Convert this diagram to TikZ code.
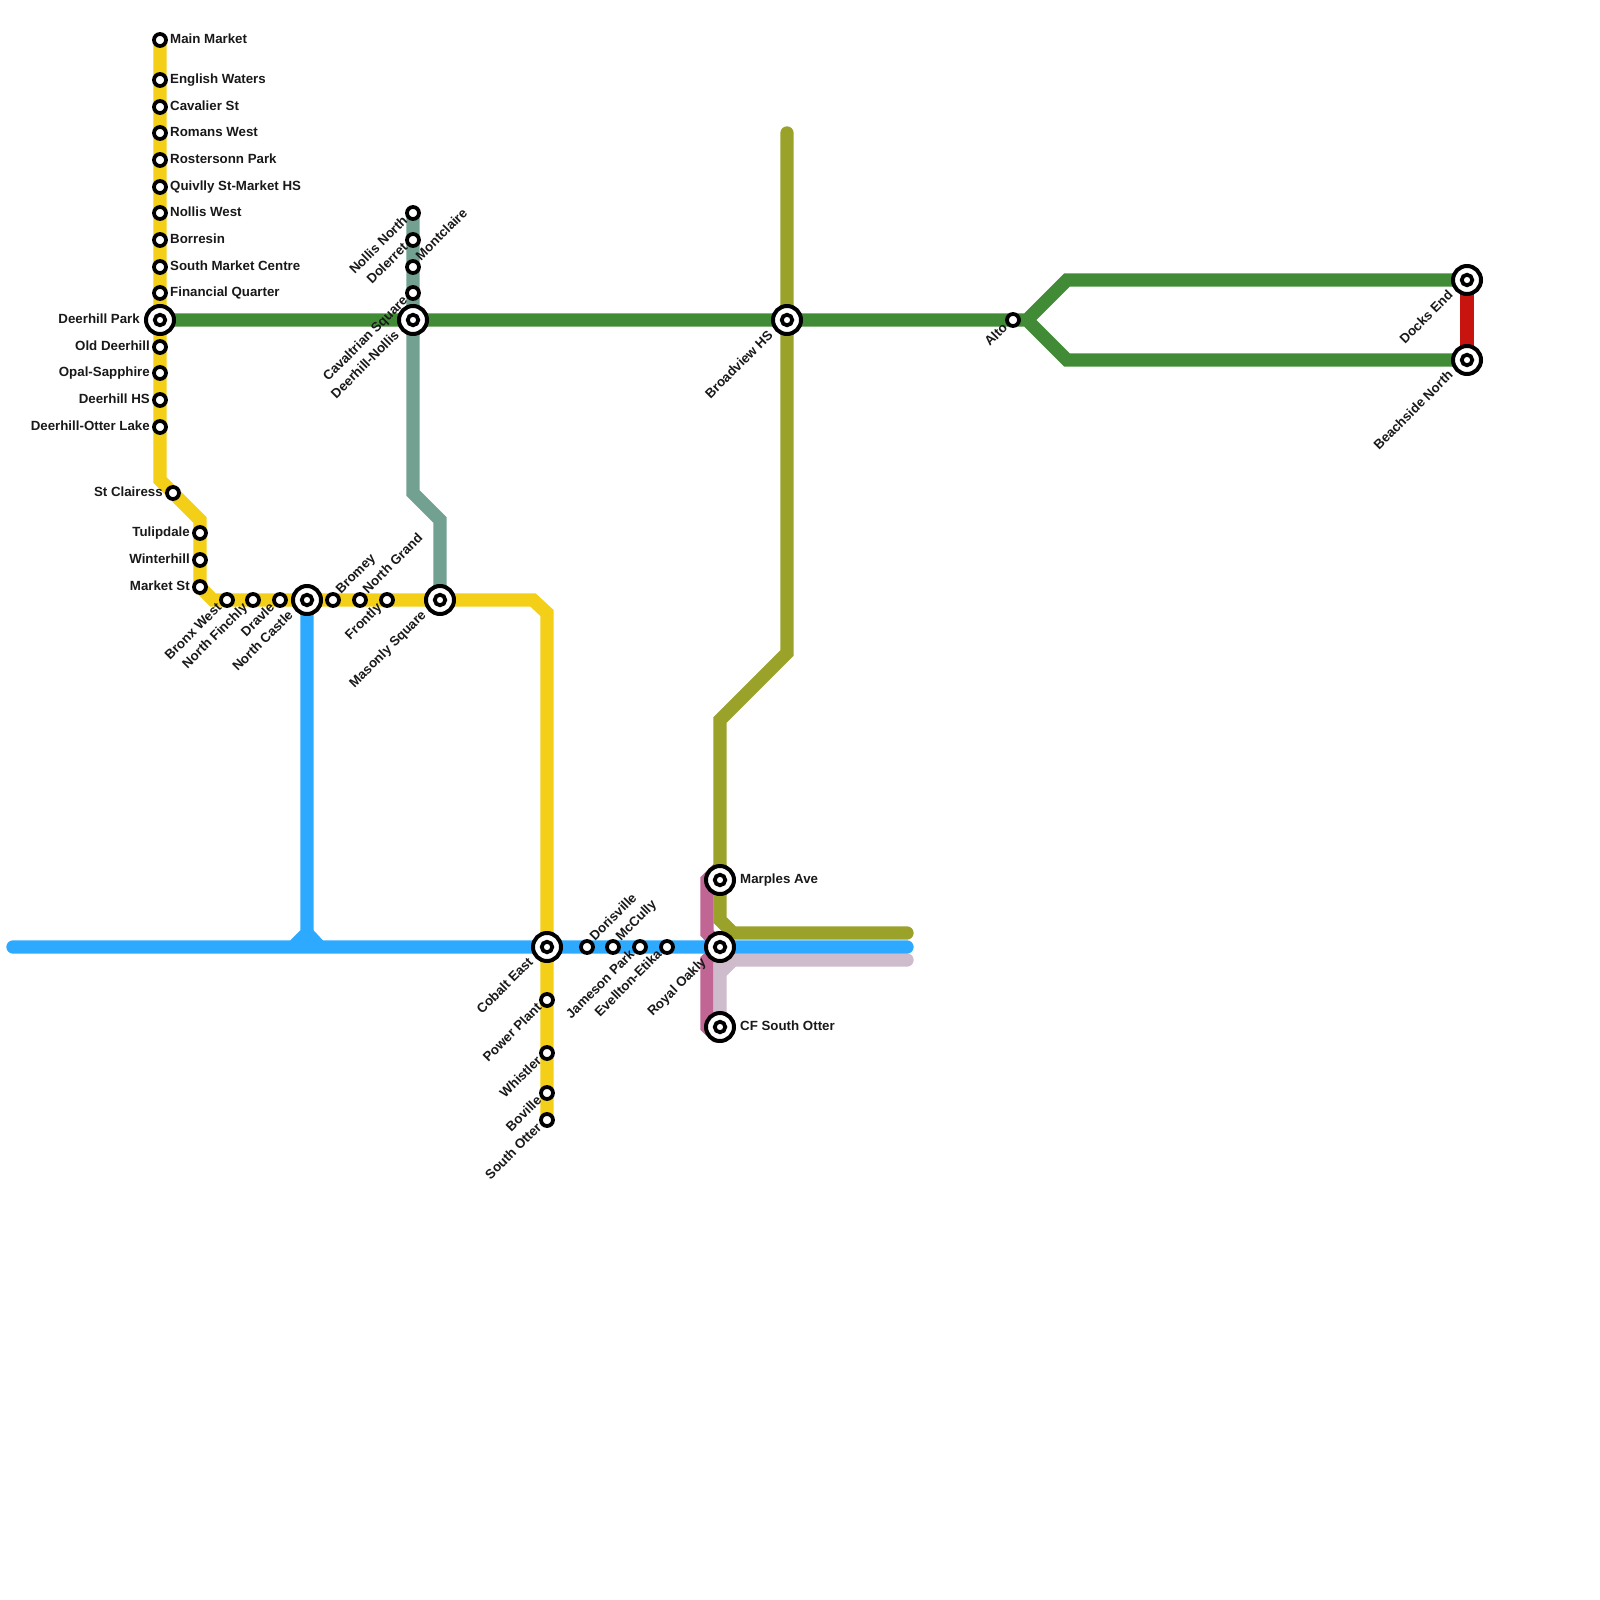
\documentclass[tikz,border=0pt]{standalone}
\usepackage{fontspec}
\setmainfont{Liberation Sans}
\usetikzlibrary{backgrounds}
\tikzset{
 x=1pt,y=-1pt,
 stn/.style={circle,draw=black,fill=white,line width=3.8pt,minimum size=12pt,inner sep=0pt},
 bigstn/.style={circle,draw=black,fill=white,line width=4pt,minimum size=28pt,inner sep=0pt},
 core/.style={circle,draw=black,fill=white,line width=3.8pt,minimum size=10.5pt,inner sep=0pt},
 metro/.style={line width=13.33pt,line cap=round,line join=miter},
 lbl/.style={inner sep=0pt,text height=9.5pt,text depth=2.8pt,font=\bfseries\fontsize{13.3}{15}\selectfont,text=black!90},
 R/.style={lbl,anchor=west,xshift=10pt,yshift=-0.5pt},
 L/.style={lbl,anchor=east,xshift=-10pt,yshift=-0.5pt},
 BL/.style={lbl,anchor=east,xshift=-20pt,yshift=-0.5pt},
 BR/.style={lbl,anchor=west,xshift=20pt,yshift=-0.5pt},
 DL/.style={lbl,anchor=east,xshift=-7pt,yshift=-6pt,rotate=45},
 BDL/.style={lbl,anchor=east,xshift=-15.5pt,yshift=-13.5pt,rotate=45},
 UR/.style={lbl,anchor=west,xshift=5.5pt,yshift=8pt,rotate=45},
}
\begin{document}
\begin{tikzpicture}
\useasboundingbox (0,0) rectangle (1600,1600);
% yellow stations
\node[stn] (mm) at (160,40) {};
\node[stn] (ew) at (160,80) {};
\node[stn] (cs) at (160,107) {};
\node[stn] (rw) at (160,133) {};
\node[stn] (rp) at (160,160) {};
\node[stn] (qs) at (160,187) {};
\node[stn] (nw) at (160,213) {};
\node[stn] (bo) at (160,240) {};
\node[stn] (sm) at (160,267) {};
\node[stn] (fq) at (160,293) {};
\node[bigstn] (dp) at (160,320) {}; \node[core] (dpi) at (dp) {};
\node[stn] (od) at (160,347) {};
\node[stn] (os) at (160,373) {};
\node[stn] (dh) at (160,400) {};
\node[stn] (dl) at (160,427) {};
\node[stn] (sc) at (173,493) {};
\node[stn] (tu) at (200,533) {};
\node[stn] (wi) at (200,560) {};
\node[stn] (ms) at (200,587) {};
\node[stn] (bw) at (227,600) {};
\node[stn] (nf) at (253,600) {};
\node[stn] (dr) at (280,600) {};
\node[bigstn] (nc) at (307,600) {}; \node[core] (nci) at (nc) {};
\node[stn] (br) at (333,600) {};
\node[stn] (ng) at (360,600) {};
\node[stn] (fr) at (387,600) {};
\node[bigstn] (mq) at (440,600) {}; \node[core] (mqi) at (mq) {};
\node[bigstn] (ce) at (547,947) {}; \node[core] (cei) at (ce) {};
\node[stn] (pp) at (547,1000) {};
\node[stn] (wh) at (547,1053) {};
\node[stn] (bv) at (547,1093) {};
\node[stn] (so) at (547,1120) {};
% blue stations
\node[stn] (ds) at (587,947) {};
\node[stn] (mc) at (613,947) {};
\node[stn] (jp) at (640,947) {};
\node[stn] (ee) at (667,947) {};
\node[bigstn] (ro) at (720,947) {}; \node[core] (roi) at (ro) {};
\node[bigstn] (ma) at (720,880) {}; \node[core] (mai) at (ma) {};
\node[bigstn] (cf) at (720,1027) {}; \node[core] (cfi) at (cf) {};
% teal stations
\node[stn] (nn) at (413,213) {};
\node[stn] (de) at (413,240) {};
\node[stn] (mo) at (413,267) {};
\node[stn] (ca) at (413,293) {};
\node[bigstn] (dn) at (413,320) {}; \node[core] (dni) at (dn) {};
% green stations
\node[bigstn] (bh) at (787,320) {}; \node[core] (bhi) at (bh) {};
\node[stn] (al) at (1013,320) {};
\node[bigstn] (de2) at (1467,280) {}; \node[core] (de2i) at (de2) {};
\node[bigstn] (bn) at (1467,360) {}; \node[core] (bni) at (bn) {};
% way points
\coordinate (y1) at (160,480); \coordinate (y2) at (200,520); \coordinate (y3) at (213,600);
\coordinate (y4) at (533,600); \coordinate (y5) at (547,613);
\coordinate (b0) at (13,947); \coordinate (b1) at (907,947);
\coordinate (b2) at (307,933); \coordinate (b3) at (293,947); \coordinate (b4) at (320,947);
\coordinate (t1) at (413,493); \coordinate (t2) at (440,520);
\coordinate (g1) at (1027,320); \coordinate (g2) at (1067,280); \coordinate (g3) at (1067,360);
\coordinate (o0) at (787,133); \coordinate (o1) at (787,653); \coordinate (o2) at (720,720);
\coordinate (o3) at (720,920); \coordinate (o4) at (733,933); \coordinate (o5) at (907,933);
\coordinate (v1) at (720,973); \coordinate (v2) at (733,960); \coordinate (v3) at (907,960);
\coordinate (p0) at (720,867); \coordinate (p1) at (707,880); \coordinate (p2) at (707,933);
\coordinate (p3) at (707,960); \coordinate (p4) at (707,1027); \coordinate (p5) at (716,1036);
\begin{pgfonlayer}{background}
\draw[metro,color={rgb,255:red,192;green,101;blue,148}] (p0)--(p1)--(p2)--(ro.center)--(p3)--(p4)--(p5);
\draw[metro,color={rgb,255:red,206;green,187;blue,203}] (ro.center)--(cf.center) (v1)--(v2)--(v3);
\draw[metro,color={rgb,255:red,114;green,161;blue,145}] (nn.center)--(t1)--(t2)--(mq.center);
\draw[metro,color={rgb,255:red,66;green,139;blue,54}] (dp.center)--(g1)--(g2)--(de2.center) (g1)--(g3)--(bn.center);
\draw[metro,color={rgb,255:red,200;green,20;blue,15}] (de2.center)--(bn.center);
\draw[metro,color={rgb,255:red,155;green,162;blue,42}] (o0)--(o1)--(o2)--(o3)--(o4)--(o5);
\draw[metro,color={rgb,255:red,243;green,207;blue,23}] (mm.center)--(y1)--(y2)--(ms.center)--(y3)--(y4)--(y5)--(so.center);
\draw[metro,color={rgb,255:red,45;green,170;blue,255}] (b0)--(b1) (nc.center)--(b2)--(b3) (b2)--(b4);
\end{pgfonlayer}
% labels
\node[R] at (mm) {Main Market};
\node[R] at (ew) {English Waters};
\node[R] at (cs) {Cavalier St};
\node[R] at (rw) {Romans West};
\node[R] at (rp) {Rostersonn Park};
\node[R] at (qs) {Quivlly St-Market HS};
\node[R] at (nw) {Nollis West};
\node[R] at (bo) {Borresin};
\node[R] at (sm) {South Market Centre};
\node[R] at (fq) {Financial Quarter};
\node[BL] at (dp) {Deerhill Park};
\node[L] at (od) {Old Deerhill};
\node[L] at (os) {Opal-Sapphire};
\node[L] at (dh) {Deerhill HS};
\node[L] at (dl) {Deerhill-Otter Lake};
\node[L] at (sc) {St Clairess};
\node[L] at (tu) {Tulipdale};
\node[L] at (wi) {Winterhill};
\node[L] at (ms) {Market St};
\node[DL] at (bw) {Bronx West};
\node[DL] at (nf) {North Finchly};
\node[DL] at (dr) {Dravle};
\node[BDL] at (nc) {North Castle};
\node[UR] at (br) {Bromey};
\node[UR] at (ng) {North Grand};
\node[DL] at (fr) {Frontly};
\node[BDL] at (mq) {Masonly Square};
\node[BDL] at (ce) {Cobalt East};
\node[DL] at (pp) {Power Plant};
\node[DL] at (wh) {Whistler};
\node[DL] at (bv) {Boville};
\node[DL] at (so) {South Otter};
\node[UR] at (ds) {Dorisville};
\node[UR] at (mc) {McCully};
\node[DL] at (jp) {Jameson Park};
\node[DL] at (ee) {Evellton-Etika};
\node[BDL] at (ro) {Royal Oakly};
\node[BR] at (ma) {Marples Ave};
\node[BR] at (cf) {CF South Otter};
\node[DL] at (nn) {Nollis North};
\node[DL] at (de) {Dolerret};
\node[UR] at (mo) {Montclaire};
\node[DL] at (ca) {Cavaltrian Square};
\node[BDL] at (dn) {Deerhill-Nollis};
\node[BDL] at (bh) {Broadview HS};
\node[DL] at (al) {Alto};
\node[BDL] at (de2) {Docks End};
\node[BDL] at (bn) {Beachside North};
\end{tikzpicture}
\end{document}
